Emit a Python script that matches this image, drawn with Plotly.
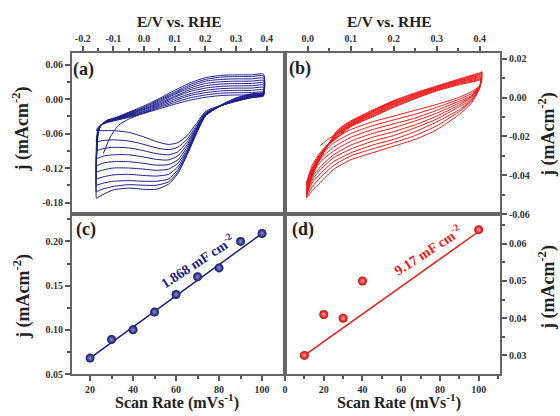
import plotly.graph_objects as go

# ---------------- Panel (a): CV loops, blue ----------------
E_a_up = [-0.155, -0.15, -0.14, -0.12, -0.09, -0.05, 0.0, 0.05, 0.1, 0.15, 0.2, 0.25, 0.3, 0.35, 0.39]
E_a_dn = [0.39, 0.35, 0.3, 0.25, 0.2, 0.17, 0.14, 0.11, 0.08, 0.04, 0.0, -0.05, -0.1, -0.13, -0.15, -0.155]
j_a_up = [
    [-0.055, -0.049, -0.045, -0.041, -0.037, -0.032, -0.025, -0.017, -0.009, -0.002, 0.003, 0.006, 0.007, 0.007, 0.008],
    [-0.075, -0.052, -0.045, -0.040, -0.036, -0.031, -0.024, -0.015, -0.006, 0.002, 0.007, 0.010, 0.011, 0.011, 0.012],
    [-0.090, -0.054, -0.045, -0.040, -0.035, -0.030, -0.022, -0.013, -0.003, 0.006, 0.011, 0.014, 0.015, 0.015, 0.016],
    [-0.104, -0.055, -0.045, -0.039, -0.035, -0.029, -0.021, -0.011, 0.000, 0.009, 0.015, 0.018, 0.019, 0.019, 0.020],
    [-0.116, -0.056, -0.045, -0.039, -0.034, -0.028, -0.019, -0.009, 0.003, 0.013, 0.019, 0.022, 0.023, 0.023, 0.024],
    [-0.127, -0.057, -0.045, -0.038, -0.034, -0.027, -0.018, -0.007, 0.005, 0.016, 0.023, 0.026, 0.027, 0.027, 0.028],
    [-0.139, -0.058, -0.045, -0.038, -0.033, -0.026, -0.017, -0.005, 0.008, 0.019, 0.027, 0.030, 0.031, 0.031, 0.032],
    [-0.150, -0.059, -0.045, -0.038, -0.033, -0.025, -0.015, -0.003, 0.010, 0.022, 0.031, 0.034, 0.035, 0.035, 0.036],
    [-0.162, -0.060, -0.045, -0.037, -0.032, -0.024, -0.014, -0.001, 0.012, 0.025, 0.034, 0.038, 0.039, 0.039, 0.040],
    [-0.173, -0.061, -0.045, -0.037, -0.032, -0.023, -0.012, 0.001, 0.015, 0.028, 0.037, 0.041, 0.042, 0.042, 0.043],
]
j_a_dn = [
    [0.005, 0.002, -0.004, -0.011, -0.022, -0.043, -0.064, -0.076, -0.079, -0.074, -0.066, -0.058, -0.055, -0.055, -0.055, -0.055],
    [0.006, 0.003, -0.004, -0.012, -0.024, -0.047, -0.070, -0.084, -0.088, -0.085, -0.079, -0.073, -0.071, -0.072, -0.074, -0.075],
    [0.007, 0.003, -0.003, -0.012, -0.025, -0.050, -0.075, -0.092, -0.097, -0.095, -0.090, -0.085, -0.084, -0.086, -0.089, -0.090],
    [0.007, 0.004, -0.003, -0.012, -0.026, -0.052, -0.080, -0.099, -0.106, -0.105, -0.101, -0.097, -0.097, -0.099, -0.103, -0.104],
    [0.008, 0.004, -0.002, -0.012, -0.027, -0.054, -0.084, -0.106, -0.114, -0.115, -0.112, -0.109, -0.109, -0.111, -0.115, -0.116],
    [0.009, 0.005, -0.002, -0.012, -0.028, -0.056, -0.088, -0.112, -0.122, -0.124, -0.122, -0.120, -0.120, -0.123, -0.126, -0.127],
    [0.010, 0.006, -0.001, -0.012, -0.028, -0.058, -0.091, -0.118, -0.131, -0.134, -0.133, -0.131, -0.132, -0.135, -0.138, -0.139],
    [0.010, 0.007, 0.000, -0.012, -0.029, -0.059, -0.094, -0.123, -0.139, -0.143, -0.143, -0.142, -0.143, -0.146, -0.149, -0.150],
    [0.011, 0.008, 0.001, -0.011, -0.029, -0.060, -0.096, -0.127, -0.144, -0.150, -0.150, -0.149, -0.152, -0.156, -0.160, -0.162],
    [0.012, 0.009, 0.002, -0.011, -0.030, -0.062, -0.098, -0.130, -0.148, -0.157, -0.157, -0.155, -0.158, -0.165, -0.171, -0.173],
]
E_a_start = [-0.133, -0.11, -0.084, -0.05, -0.019, 0.02]
j_a_start = [-0.095, -0.066, -0.046, -0.035, -0.028, -0.020]

# ---------------- Panel (b): CV loops, red ----------------
E_b_up = [-0.003, 0.005, 0.02, 0.04, 0.07, 0.1, 0.15, 0.2, 0.25, 0.3, 0.35, 0.4, 0.405]
E_b_dn = [0.405, 0.4, 0.38, 0.35, 0.3, 0.25, 0.2, 0.15, 0.1, 0.06, 0.03, 0.01, -0.003]
j_b_up = [
    [-0.044, -0.039, -0.032, -0.026, -0.0205, -0.015, -0.010, -0.005, -0.0005, 0.0035, 0.0065, 0.009, 0.0095],
    [-0.045, -0.040, -0.033, -0.026, -0.020, -0.0146, -0.0096, -0.0046, -0.0002, 0.0038, 0.007, 0.0095, 0.010],
    [-0.046, -0.040, -0.033, -0.026, -0.0195, -0.0142, -0.0091, -0.0041, 0.0002, 0.0041, 0.0073, 0.010, 0.0105],
    [-0.047, -0.041, -0.034, -0.026, -0.019, -0.0138, -0.0087, -0.0036, 0.0006, 0.0045, 0.0078, 0.0105, 0.011],
    [-0.048, -0.042, -0.034, -0.026, -0.0185, -0.0135, -0.0083, -0.0032, 0.001, 0.0048, 0.008, 0.011, 0.0115],
    [-0.049, -0.042, -0.034, -0.027, -0.018, -0.0131, -0.0078, -0.0028, 0.0014, 0.0051, 0.0085, 0.0115, 0.012],
    [-0.050, -0.043, -0.035, -0.027, -0.0175, -0.0127, -0.0074, -0.0024, 0.0017, 0.0054, 0.0088, 0.012, 0.0125],
    [-0.051, -0.044, -0.035, -0.027, -0.017, -0.0124, -0.0069, -0.0019, 0.0021, 0.0057, 0.0091, 0.0124, 0.013],
    [-0.0515, -0.044, -0.035, -0.027, -0.0165, -0.012, -0.0065, -0.0015, 0.0025, 0.006, 0.0095, 0.0128, 0.0134],
]
j_b_dn = [
    [0.0095, 0.006, 0.003, 0.000, -0.0035, -0.0065, -0.0095, -0.0125, -0.0165, -0.0215, -0.028, -0.035, -0.044],
    [0.010, 0.006, 0.002, -0.001, -0.005, -0.0085, -0.0115, -0.0145, -0.0185, -0.0235, -0.030, -0.0365, -0.045],
    [0.0105, 0.006, 0.001, -0.002, -0.0065, -0.0105, -0.0135, -0.0165, -0.0205, -0.0255, -0.0315, -0.038, -0.046],
    [0.011, 0.006, 0.0005, -0.003, -0.008, -0.012, -0.0155, -0.0185, -0.0225, -0.0275, -0.033, -0.0395, -0.047],
    [0.0115, 0.006, 0.0, -0.004, -0.0095, -0.014, -0.0175, -0.0205, -0.0245, -0.0295, -0.0355, -0.041, -0.048],
    [0.012, 0.006, -0.001, -0.005, -0.011, -0.0155, -0.0195, -0.0225, -0.0265, -0.031, -0.037, -0.0425, -0.049],
    [0.0125, 0.0055, -0.0015, -0.0065, -0.0125, -0.0175, -0.0215, -0.0245, -0.0285, -0.033, -0.039, -0.044, -0.050],
    [0.013, 0.0055, -0.002, -0.0075, -0.0145, -0.0195, -0.0232, -0.0265, -0.030, -0.035, -0.041, -0.046, -0.051],
    [0.0134, 0.005, -0.003, -0.009, -0.0165, -0.0215, -0.025, -0.0285, -0.032, -0.037, -0.0435, -0.048, -0.0515],
]
E_b_start = [0.029, 0.05, 0.072, 0.1, 0.126, 0.165, 0.204]
j_b_start = [-0.0247, -0.021, -0.0178, -0.0145, -0.0105, -0.0055, -0.0015]

# ---------------- Panel (c) / (d): scan-rate plots ----------------
rate_c = [20, 30, 40, 50, 60, 70, 80, 90, 100]
j_c = [0.068, 0.089, 0.100, 0.120, 0.140, 0.160, 0.170, 0.200, 0.209]
fit_c_x = [20, 100]
fit_c_y = [0.068, 0.209]

rate_d = [10, 20, 30, 40, 100]
j_d = [0.030, 0.041, 0.040, 0.050, 0.0638]
fit_d_x = [10, 100]
fit_d_y = [0.030, 0.0633]

# tick labels
xa_vals = [-0.2, -0.1, 0.0, 0.1, 0.2, 0.3, 0.4]
xa_text = ["-0.2", "-0.1", "0.0", "0.1", "0.2", "0.3", "0.4"]
ya_vals = [-0.18, -0.12, -0.06, 0.0, 0.06]
ya_text = ["-0.18", "-0.12", "-0.06", "0.00", "0.06"]
xb_vals = [0.0, 0.1, 0.2, 0.3, 0.4]
xb_text = ["0.0", "0.1", "0.2", "0.3", "0.4"]
yb_vals = [-0.06, -0.04, -0.02, 0.0, 0.02]
yb_text = ["-0.06", "-0.04", "-0.02", "0.00", "0.02"]
xc_vals = [20, 40, 60, 80, 100]
yc_vals = [0.05, 0.10, 0.15, 0.20]
yc_text = ["0.05", "0.10", "0.15", "0.20"]
xd_vals = [0, 20, 40, 60, 80, 100]
yd_vals = [0.03, 0.04, 0.05, 0.06]
yd_text = ["0.03", "0.04", "0.05", "0.06"]

BLUE = "#1c1c8c"
RED = "#f01818"
SERIF = "Liberation Serif"

fig = go.Figure()

for up, dn in zip(j_a_up, j_a_dn):
    fig.add_trace(go.Scatter(x=E_a_up + E_a_dn, y=up + dn, mode="lines",
                             line=dict(color=BLUE, width=1, shape="spline", smoothing=0.6),
                             xaxis="x", yaxis="y", showlegend=False))
fig.add_trace(go.Scatter(x=E_a_start, y=j_a_start, mode="lines",
                         line=dict(color=BLUE, width=1, shape="spline", smoothing=0.6),
                         xaxis="x", yaxis="y", showlegend=False))

for up, dn in zip(j_b_up, j_b_dn):
    fig.add_trace(go.Scatter(x=E_b_up + E_b_dn, y=up + dn, mode="lines",
                             line=dict(color=RED, width=1, shape="spline", smoothing=0.6),
                             xaxis="x2", yaxis="y2", showlegend=False))
fig.add_trace(go.Scatter(x=E_b_start, y=j_b_start, mode="lines",
                         line=dict(color=RED, width=1, shape="spline", smoothing=0.6),
                         xaxis="x2", yaxis="y2", showlegend=False))

fig.add_trace(go.Scatter(x=fit_c_x, y=fit_c_y, mode="lines", line=dict(color=BLUE, width=1.5),
                         xaxis="x3", yaxis="y3", showlegend=False))
fig.add_trace(go.Scatter(x=rate_c, y=j_c, mode="markers",
                         marker=dict(size=9, color="#10105a",
                                     gradient=dict(type="radial", color="#8a8ae0")),
                         xaxis="x3", yaxis="y3", showlegend=False))

fig.add_trace(go.Scatter(x=fit_d_x, y=fit_d_y, mode="lines", line=dict(color=RED, width=1.5),
                         xaxis="x4", yaxis="y4", showlegend=False))
fig.add_trace(go.Scatter(x=rate_d, y=j_d, mode="markers",
                         marker=dict(size=9, color="#c80000",
                                     gradient=dict(type="radial", color="#ff9a9a")),
                         xaxis="x4", yaxis="y4", showlegend=False))

tickfont = dict(family=SERIF, size=10, color="#333", weight="bold")
common = dict(showline=True, linecolor="#666", linewidth=2, mirror=True, ticks="outside",
              ticklen=5, tickwidth=1.5, tickcolor="#555", tickfont=tickfont, showgrid=False,
              zeroline=False)

XL = [0, 0.4977]
XR = [0.4977, 1]
YT = [0.4984, 1]
YB = [0, 0.4984]

fig.update_layout(
    width=560, height=416,
    margin=dict(l=72, r=60, t=53, b=42),
    paper_bgcolor="white", plot_bgcolor="white",
    font=dict(family=SERIF, color="#222"),
    xaxis=dict(domain=XL, anchor="y", side="top", range=[-0.235, 0.46],
               tickmode="array", tickvals=xa_vals, ticktext=xa_text,
               minor=dict(ticks="outside", ticklen=3, tickcolor="#555",
                          tickvals=[-0.15, -0.05, 0.05, 0.15, 0.25, 0.35]), **common),
    yaxis=dict(domain=YT, anchor="x", range=[-0.2, 0.08],
               tickmode="array", tickvals=ya_vals, ticktext=ya_text,
               minor=dict(ticks="outside", ticklen=3, tickcolor="#555",
                          tickvals=[-0.15, -0.09, -0.03, 0.03]), **common),
    xaxis2=dict(domain=XR, anchor="y2", side="top", range=[-0.053, 0.447],
                tickmode="array", tickvals=xb_vals, ticktext=xb_text,
                minor=dict(ticks="outside", ticklen=3, tickcolor="#555",
                           tickvals=[0.05, 0.15, 0.25, 0.35]), **common),
    yaxis2=dict(domain=YT, anchor="x2", side="right", range=[-0.06, 0.023],
                tickmode="array", tickvals=yb_vals, ticktext=yb_text,
                minor=dict(ticks="outside", ticklen=3, tickcolor="#555",
                           tickvals=[-0.05, -0.03, -0.01, 0.01]), **common),
    xaxis3=dict(domain=XL, anchor="y3", range=[11.6, 110.7],
                tickmode="array", tickvals=xc_vals, ticktext=[str(v) for v in xc_vals],
                minor=dict(ticks="outside", ticklen=3, tickcolor="#555",
                           tickvals=[30, 50, 70, 90]), **common),
    yaxis3=dict(domain=YB, anchor="x3", range=[0.05, 0.231],
                tickmode="array", tickvals=yc_vals, ticktext=yc_text,
                minor=dict(ticks="outside", ticklen=3, tickcolor="#555",
                           tickvals=[0.075, 0.125, 0.175, 0.225]), **common),
    xaxis4=dict(domain=XR, anchor="y4", range=[0, 111],
                tickmode="array", tickvals=xd_vals, ticktext=[str(v) for v in xd_vals],
                minor=dict(ticks="outside", ticklen=3, tickcolor="#555",
                           tickvals=[10, 30, 50, 70, 90, 110]), **common),
    yaxis4=dict(domain=YB, anchor="x4", side="right", range=[0.025, 0.068],
                tickmode="array", tickvals=yd_vals, ticktext=yd_text,
                minor=dict(ticks="outside", ticklen=3, tickcolor="#555",
                           tickvals=[0.035, 0.045, 0.055, 0.065]), **common),
)

def ann(x, y, text, size, color="#222", angle=0, xanchor="center"):
    fig.add_annotation(x=x, y=y, xref="paper", yref="paper", text=text, showarrow=False,
                       font=dict(family=SERIF, size=size, color=color, weight="bold"),
                       textangle=angle, xanchor=xanchor, yanchor="middle")

# panel labels
ann(0.028, 0.950, "(a)", 18)
ann(0.5327, 0.953, "(b)", 18)
ann(0.0327, 0.4517, "(c)", 18)
ann(0.5397, 0.4517, "(d)", 18)
# axis titles
ann(0.25, 1.0966, "E/V vs. RHE", 15.5)
ann(0.7407, 1.0966, "E/V vs. RHE", 15.5)
ann(0.2453, -0.0872, "Scan Rate (mVs<sup>-1</sup>)", 16)
ann(0.764, -0.0872, "Scan Rate (mVs<sup>-1</sup>)", 16)
ann(-0.1168, 0.7617, "j (mAcm<sup>-2</sup>)", 18, angle=-90)
ann(-0.1168, 0.24, "j (mAcm<sup>-2</sup>)", 18, angle=-90)
ann(1.11, 0.7445, "j (mAcm<sup>-2</sup>)", 18, angle=-90)
ann(1.11, 0.268, "j (mAcm<sup>-2</sup>)", 18, angle=-90)
# slope labels
ann(0.292, 0.352, "1.868 mF cm<sup>-2</sup>", 14, color=BLUE, angle=-33)
ann(0.8306, 0.386, "9.17 mF cm<sup>-2</sup>", 14, color=RED, angle=-33)

fig.write_html("out.html")
